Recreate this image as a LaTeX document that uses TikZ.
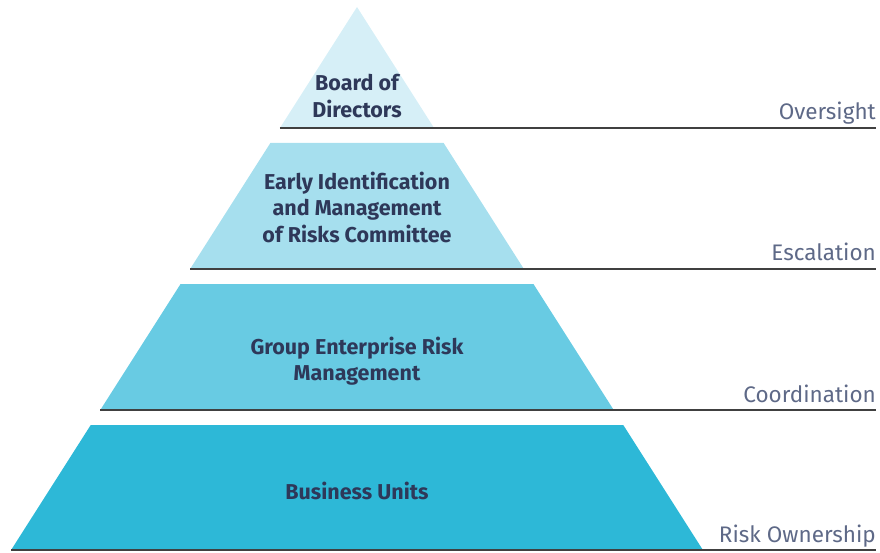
\documentclass[tikz,border=0pt]{standalone}
\usepackage{fontspec}
\setmainfont{Fira Sans}
\definecolor{tierA}{HTML}{D6EFF7}
\definecolor{tierB}{HTML}{A6DFEE}
\definecolor{tierC}{HTML}{68CBE3}
\definecolor{tierD}{HTML}{2DB8D7}
\definecolor{navy}{HTML}{2E3859}
\definecolor{slate}{HTML}{5E6987}
\tikzset{
  tier/.style={align=center, text=navy, font=\fontsize{21.5}{26.5}\selectfont\bfseries},
  level/.style={anchor=base east, text=slate, font=\fontsize{22.5}{26}\selectfont, inner sep=0pt},
  rule/.style={line width=1.8pt, black!75}
}
\begin{document}
\begin{tikzpicture}[x=1pt,y=-1pt]
\useasboundingbox (0,0) rectangle (880,553);
% pyramid bands: top / bottom / colour / level name
\foreach \t/\b/\c/\l in {7/128/tierA/Oversight, 143/269/tierB/Escalation, 284/410/tierC/Coordination, 425/550/tierD/Risk Ownership}{
  \fill[\c] ({357-0.637*(\t-7)}, \t) -- ({357+0.637*(\t-7)}, \t)
    -- ({357+0.637*(\b-7)}, \b) -- ({357-0.637*(\b-7)}, \b) -- cycle;
  \draw[rule] ({357-0.637*(\b-7)}, \b) -- (876, \b);
  \node[level] at (876, \b-8) {\l};
}
\node[tier] (board) at (357, 96) {Board of\\Directors};
\node[tier] (committee) at (357, 207) {Early Identification\\and Management\\of Risks Committee};
\node[tier] (group) at (357, 361) {Group Enterprise Risk\\Management};
\node[tier] (units) at (357, 491) {Business Units};
\end{tikzpicture}
\end{document}
